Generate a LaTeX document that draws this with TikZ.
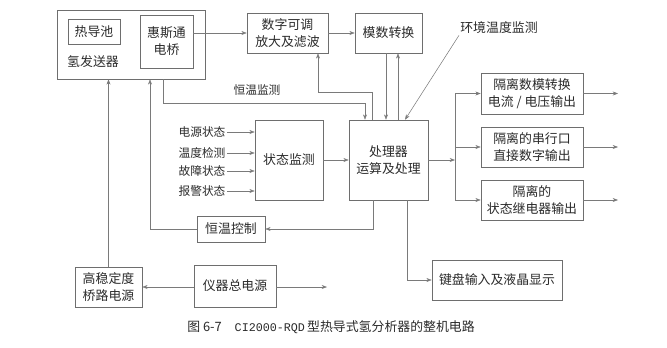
\documentclass[tikz,border=0pt]{standalone}
\usepackage{fontspec}
\setmainfont{Noto Sans CJK SC}
\setmonofont{Liberation Mono}
\usetikzlibrary{
    arrows.meta,
    positioning
}
\definecolor{linegray}{HTML}{7A7A7A}
\definecolor{boxgray}{HTML}{6E6E6E}
\definecolor{inkgray}{HTML}{2A2A2A}
\tikzset{
    block/.style={
        draw=boxgray,
        line width=0.5pt,
        inner sep=1pt,
        align=center,
        text=inkgray,
        font=\fontsize{11}{14.5}\selectfont
    },
    side label/.style={
        inner sep=1pt,
        text=inkgray,
        font=\fontsize{10}{12}\selectfont
    },
    flow/.style={
        -{Stealth[length=1.6mm, width=1.2mm]},
        line width=0.45pt,
        draw=linegray
    },
    wire/.style={
        line width=0.45pt,
        draw=linegray
    }
}

\begin{document}
\begin{tikzpicture}
    \useasboundingbox (0,0) rectangle (20.01,-10.41);

    % -------------------------------------------------------------------------
    % Sensor head and signal chain.
    % -------------------------------------------------------------------------
    \node[block, minimum width=4.44cm, minimum height=2.07cm] (hsender)
        at (3.93,-1.335) {};
    \node[block, minimum width=1.56cm, minimum height=0.75cm] (tcd)
        at (2.82,-0.945) {热导池};
    \node[block, minimum width=1.59cm, minimum height=1.59cm] (bridge)
        at (4.995,-1.245) {惠斯通\\电桥};
    \node[side label, font=\fontsize{11}{13}\selectfont] (hlabel)
        at (2.79,-1.86) {氢发送器};

    \node[block, minimum width=2.43cm, minimum height=1.20cm] (amp)
        at (8.625,-0.99) {数字可调\\放大及滤波};
    \node[block, minimum width=2.01cm, minimum height=1.20cm] (adc)
        at (11.655,-0.99) {模数转换};
    \node[side label, font=\fontsize{11}{13}\selectfont] (envlab)
        at (14.97,-0.84) {环境温度监测};

    \draw[flow] (bridge.east |- amp.west) -- (amp.west);
    \draw[flow] (amp.east) -- (adc.west);

    % -------------------------------------------------------------------------
    % Processor with its inputs.
    % -------------------------------------------------------------------------
    \node[block, minimum width=2.37cm, minimum height=2.40cm] (cpu)
        at (11.655,-4.80) {处理器\\运算及处理};
    \node[block, minimum width=2.04cm, minimum height=2.40cm] (state)
        at (8.67,-4.80) {状态监测};
    \node[block, minimum width=2.04cm, minimum height=0.78cm] (heat)
        at (6.93,-6.87) {恒温控制};

    \coordinate (adcdown) at ([xshift=-0.075cm]adc.south);
    \coordinate (adcup) at ([xshift=0.285cm]adc.south);
    \draw[flow] (adcdown) -- (adcdown |- cpu.north);
    \draw[flow] (adcup |- cpu.north) -- (adcup);
    \draw[flow] (envlab.south west) -- ([xshift=0.495cm]cpu.north);

    \node[side label] (tmonlab) at (7.71,-2.70) {恒温监测};
    \draw[flow] ([xshift=0.96cm]hsender.south) -- ++(0,-0.72)
        -| ([xshift=-0.705cm]cpu.north);
    \draw[flow] ([xshift=-0.495cm]cpu.north) -- ++(0,0.81)
        -| ([xshift=0.915cm]amp.south);

    \foreach \txt/\y [count=\i] in
        {电源状态/-3.96, 温度检测/-4.59, 故障状态/-5.13, 报警状态/-5.73} {
        \node[side label] (ls\i) at (6.06,\y) {\txt};
        \draw[flow] (ls\i.east) -- (ls\i.east -| state.west);
    }
    \draw[flow] (state.east) -- (cpu.west);

    \draw[flow] ([xshift=-0.465cm]cpu.south) |- (heat.east);
    \draw[flow] (heat.west) -| ([xshift=0.57cm]hsender.south);

    % -------------------------------------------------------------------------
    % Power supplies.
    % -------------------------------------------------------------------------
    \node[block, minimum width=2.01cm, minimum height=1.20cm] (bpower)
        at (3.255,-8.61) {高稳定度\\桥路电源};
    \node[block, minimum width=2.46cm, minimum height=1.26cm] (mpower)
        at (7.05,-8.58) {仪器总电源};
    \coordinate (pwrout) at (9.81,-8.61);

    \draw[flow] (bpower.north) -- (bpower.north |- hsender.south);
    \draw[flow] (mpower.west |- bpower.east) -- (bpower.east);
    \draw[flow] (mpower.east |- pwrout) -- (pwrout);

    % -------------------------------------------------------------------------
    % Isolated outputs, keyboard and display.
    % -------------------------------------------------------------------------
    \node[block, minimum width=3.06cm, minimum height=1.23cm] (out1)
        at (15.96,-2.805) {隔离数模转换\\电流 / 电压输出};
    \node[block, minimum width=3.06cm, minimum height=1.20cm] (out2)
        at (15.96,-4.41) {隔离的串行口\\直接数字输出};
    \node[block, minimum width=3.06cm, minimum height=1.20cm] (out3)
        at (15.96,-6.00) {隔离的\\状态继电器输出};
    \node[block, minimum width=3.90cm, minimum height=1.20cm] (kbd)
        at (14.91,-8.40) {键盘输入及液晶显示};

    \coordinate (bus) at (13.65,-4.80);
    \coordinate (outend) at (18.54,0);
    \draw[flow] (cpu.east) -- (bus);
    \draw[wire] (bus |- out1.west) -- (bus |- out3.west);
    \foreach \o in {out1,out2,out3} {
        \draw[flow] (bus |- \o.west) -- (\o.west);
        \draw[flow] (\o.east) -- (\o.east -| outend);
    }
    \draw[flow] ([xshift=0.555cm]cpu.south) |- (kbd.west);

    % Caption.
    \node[text=inkgray, font=\fontsize{11}{13}\selectfont] (caption)
        at (9.93,-9.81)
        {图 6-7\quad{\ttfamily\fontsize{10}{12}\selectfont CI2000-RQD}\,型热导式氢分析器的整机电路};

\end{tikzpicture}
\end{document}
